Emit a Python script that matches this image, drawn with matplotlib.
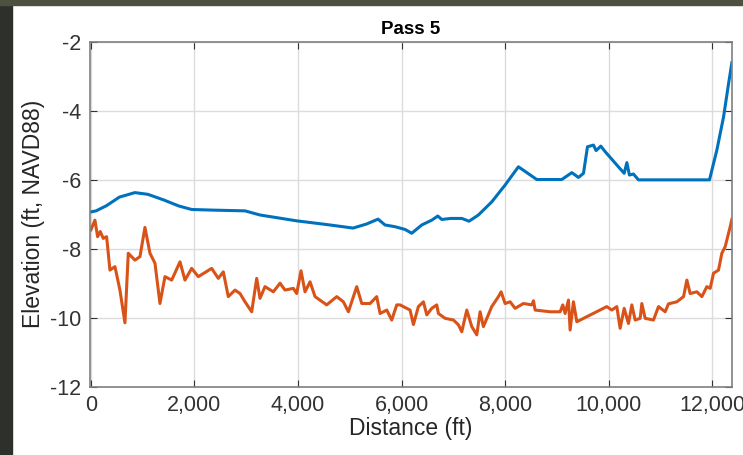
import matplotlib
matplotlib.use("Agg")
import matplotlib.pyplot as plt
from matplotlib.patches import Rectangle
from matplotlib.ticker import FuncFormatter
from matplotlib import font_manager

# Pass 5 profiles
dist_top = [0, 100, 300, 550, 850, 1100, 1400, 1700, 1946, 2400, 2976, 3266, 3600,
            3974, 4300, 4618, 5063, 5327, 5546, 5681, 5874, 6068, 6197, 6390, 6583,
            6700, 6777, 6950, 7163, 7304, 7484, 7742, 8000, 8257, 8612, 9095, 9289,
            9417, 9514, 9591, 9707, 9758, 9849, 9932, 10159, 10300, 10352, 10401,
            10479, 10576, 11948, 12091, 12220, 12317, 12380]
elev_top = [-6.93, -6.9, -6.75, -6.5, -6.37, -6.42, -6.58, -6.76, -6.86, -6.88, -6.9,
            -7.02, -7.1, -7.19, -7.25, -7.31, -7.40, -7.28, -7.14, -7.31, -7.36, -7.44,
            -7.55, -7.31, -7.17, -7.05, -7.15, -7.12, -7.12, -7.2, -7.02, -6.64, -6.15,
            -5.62, -5.99, -5.99, -5.79, -5.93, -5.81, -5.04, -4.99, -5.15, -5.02, -5.18,
            -5.57, -5.81, -5.5, -5.86, -5.83, -6.0, -6.0, -5.13, -4.17, -3.2, -2.6]

dist_bot = [0, 77, 129, 180, 238, 303, 367, 464, 560, 657, 721, 850, 947, 1043, 1140,
            1237, 1333, 1430, 1560, 1720, 1816, 1946, 2074, 2332, 2460, 2557, 2653,
            2783, 2880, 2976, 3105, 3202, 3266, 3362, 3523, 3652, 3749, 3910, 3974,
            4058, 4135, 4232, 4329, 4554, 4748, 4876, 4973, 5134, 5231, 5391, 5520,
            5585, 5714, 5810, 5907, 5971, 6164, 6229, 6325, 6422, 6487, 6583, 6680,
            6712, 6841, 7003, 7099, 7163, 7260, 7356, 7453, 7517, 7581, 7742, 7871,
            7923, 8000, 8097, 8193, 8354, 8516, 8548, 8580, 8870, 9063, 9114, 9159,
            9224, 9256, 9320, 9385, 9964, 10061, 10158, 10222, 10300, 10383, 10448,
            10512, 10609, 10641, 10705, 10866, 10963, 11092, 11156, 11318, 11447,
            11511, 11575, 11704, 11801, 11897, 11961, 12026, 12122, 12187, 12251,
            12316, 12348, 12380]
elev_bot = [-7.45, -7.17, -7.65, -7.5, -7.7, -7.65, -8.62, -8.52, -9.2, -10.15, -8.13,
            -8.33, -8.23, -7.38, -8.13, -8.42, -9.59, -8.81, -8.91, -8.38, -8.91, -8.57,
            -8.81, -8.57, -8.86, -8.67, -9.39, -9.2, -9.3, -9.54, -9.83, -8.86, -9.44,
            -9.1, -9.25, -9.0, -9.2, -9.15, -9.3, -8.64, -9.25, -8.96, -9.39, -9.63,
            -9.39, -9.54, -9.83, -9.1, -9.59, -9.59, -9.39, -9.88, -9.78, -10.07, -9.63,
            -9.63, -9.78, -10.2, -9.68, -9.54, -9.92, -9.73, -9.63, -9.88, -10.02,
            -10.07, -10.21, -10.41, -9.78, -10.26, -10.5, -9.83, -10.26, -9.68, -9.39,
            -9.25, -9.59, -9.54, -9.73, -9.59, -9.63, -9.51, -9.78, -9.83, -9.83, -9.63,
            -9.88, -9.49, -10.36, -9.54, -10.12, -9.68, -9.78, -9.68, -10.31, -9.73,
            -10.17, -9.63, -10.07, -10.02, -9.59, -10.02, -10.07, -9.68, -9.83, -9.6,
            -9.54, -9.39, -8.91, -9.30, -9.25, -9.39, -9.1, -9.15, -8.71, -8.62, -8.13,
            -7.94, -7.55, -7.36, -7.15]

xticks = [0, 2000, 4000, 6000, 8000, 10000, 12000]
yticks = [-12, -10, -8, -6, -4, -2]

plt.rcParams['font.family'] = ['Liberation Sans', 'DejaVu Sans']
plt.rcParams['axes.unicode_minus'] = False

# narrow face for the title if there is one
names = {f.name for f in font_manager.fontManager.ttflist}
if 'Liberation Sans Narrow' in names:
    title_font = ['Liberation Sans Narrow', 'Liberation Sans']
    title_size = 15.5
else:
    title_font = ['Liberation Sans', 'DejaVu Sans']
    title_size = 13.5

fig = plt.figure(figsize=(7.43, 4.55), dpi=100)
fig.patch.set_facecolor('white')
# dark screenshot border
fig.patches.append(Rectangle((0, 0), 12 / 743, 1, transform=fig.transFigure,
                             color='#2e302c', zorder=0))
fig.patches.append(Rectangle((0, 1 - 5 / 455), 1, 5 / 455, transform=fig.transFigure,
                             color='#4d5240', zorder=0))

ax = fig.add_axes([0.121, 0.1505, 0.864, 0.757])
ax.plot(dist_top, elev_top, color='#0072BD', lw=2.2)
ax.plot(dist_bot, elev_bot, color='#D95319', lw=2.2)

ax.set_xlim(-20, 12380)
ax.set_ylim(-12, -2)
ax.set_xticks(xticks)
ax.set_yticks(yticks)
ax.xaxis.set_major_formatter(FuncFormatter(lambda v, p: f"{int(v):,}"))
ax.grid(True, color='#dcdcdc', lw=1)
ax.set_axisbelow(True)
ax.tick_params(direction='in', length=5, top=True, right=True, labelsize=15.5,
               colors='#333333', pad=6)
for s in ax.spines.values():
    s.set_color('#7f7f7f')
    s.set_linewidth(1.2)

ax.set_title('Pass 5', fontsize=title_size, fontweight='bold', family=title_font, pad=6)
ax.set_xlabel('Distance (ft)', fontsize=16.5, color='#262626', labelpad=1)
ax.set_ylabel('Elevation (ft, NAVD88)', fontsize=16.5, color='#262626', labelpad=4)

fig.savefig('out.png', dpi=100)
